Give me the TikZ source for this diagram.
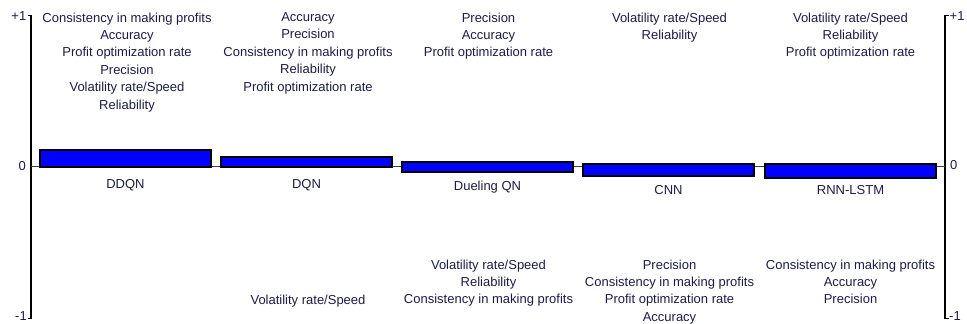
\documentclass[tikz,border=0pt]{standalone}
\usepackage{fontspec}
\setmainfont{Liberation Sans}
\usepackage{xcolor}
\usetikzlibrary{positioning}

\definecolor{textnavy}{RGB}{28,28,70}
\definecolor{barblue}{RGB}{0,0,255}

\begin{document}
\begin{tikzpicture}[x=1pt, y=-1pt, line cap=butt, line join=miter,
    every node/.style={font=\fontsize{13}{17.4}\selectfont, text=textnavy, inner sep=0pt},
    bar/.style={rectangle, draw=black, line width=2pt, fill=barblue, minimum width=171pt},
    alt/.style={text height=9.4pt, text depth=2.6pt},
    crit/.style={align=center, anchor=north},
    axis/.style={draw=black, line width=1.3pt},
    zeroline/.style={draw=black!75, line width=1pt}]
    \useasboundingbox (0,0) rectangle (967,324);

    % Axes
    \coordinate (ltop) at (31,15.5);
    \coordinate (lbot) at (31,318.5);
    \coordinate (ltopt) at (27.5,15.5);
    \coordinate (lbott) at (27.5,318.5);
    \coordinate (rtop) at (945,15.5);
    \coordinate (rbot) at (945,318.5);
    \coordinate (rtopt) at (948.5,15.5);
    \coordinate (rbott) at (948.5,318.5);
    \coordinate (lzero) at (31,166);
    \coordinate (rzero) at (945,166);

    \draw[axis] (ltopt) -- (ltop) -- (lbot) -- (lbott);
    \draw[axis] (rtopt) -- (rtop) -- (rbot) -- (rbott);
    \draw[zeroline] (lzero) -- (rzero);

    \node[alt, left=1pt of ltopt, yshift=-2pt] (lplus) {+1};
    \node[alt, left=5pt of lzero, yshift=-1pt] (lnull) {0};
    \node[alt, left=0.5pt of lbott, yshift=1pt] (lminus) {-1};
    \node[alt, right=1pt of rtopt, yshift=-2pt] (rplus) {+1};
    \node[alt, right=5pt of rzero] (rnull) {0};
    \node[alt, right=0.5pt of rbott, yshift=1pt] (rminus) {-1};

    % Bars
    \node[bar, minimum height=16.8pt] (ddqn) at (125.5,158.1) {};
    \node[bar, minimum height=9.2pt] (dqn) at (306.5,161.9) {};
    \node[bar, minimum height=10pt] (duel) at (487.5,167) {};
    \node[bar, minimum height=12.3pt] (cnn) at (668.5,169.9) {};
    \node[bar, minimum height=13.8pt] (lstm) at (850.5,170.6) {};

    \node[alt, anchor=north, below=11pt of ddqn] (ddqnlab) {DDQN};
    \node[alt, anchor=north, below=11pt of dqn] (dqnlab) {DQN};
    \node[alt, anchor=north, below=8pt of duel] (duellab) {Dueling QN};
    \node[alt, anchor=north, below=8pt of cnn] (cnnlab) {CNN};
    \node[alt, anchor=north, below=6pt of lstm] (lstmlab) {RNN-LSTM};

    % Criteria above
    \node[crit] (ddqnup) at (127,12.4) {Consistency in making profits\\Accuracy\\Profit optimization rate\\Precision\\Volatility rate/Speed\\Reliability};
    \node[crit] (dqnup) at (308,12.4) {Accuracy\\Precision\\Consistency in making profits\\Reliability\\Profit optimization rate};
    \node[crit] (duelup) at (488.5,12.4) {Precision\\Accuracy\\Profit optimization rate};
    \node[crit] (cnnup) at (669.5,12.4) {Volatility rate/Speed\\Reliability};
    \node[crit] (lstmup) at (850.5,12.4) {Volatility rate/Speed\\Reliability\\Profit optimization rate};

    % Criteria below
    \node[crit] (dqndown) at (308,294.4) {Volatility rate/Speed};
    \node[crit] (dueldown) at (488.5,259.4) {Volatility rate/Speed\\Reliability\\Consistency in making profits};
    \node[crit] (cnndown) at (669.5,259.4) {Precision\\Consistency in making profits\\Profit optimization rate\\Accuracy};
    \node[crit] (lstmdown) at (850.5,259.4) {Consistency in making profits\\Accuracy\\Precision};
\end{tikzpicture}
\end{document}
